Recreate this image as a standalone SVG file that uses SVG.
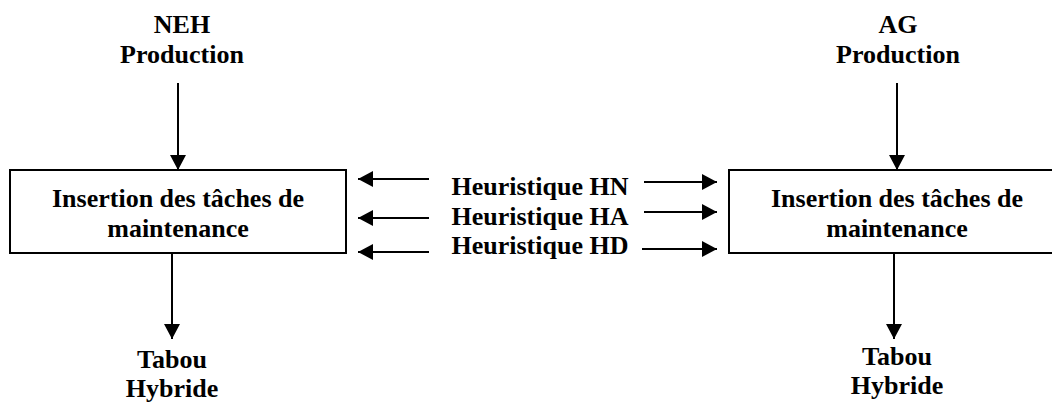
<svg xmlns="http://www.w3.org/2000/svg" width="1052" height="403" viewBox="0 0 1052 403">
<style>
text{font-family:"Liberation Serif","Times New Roman",serif;font-weight:bold;font-size:26px;fill:#000;text-anchor:middle}
.box{fill:#fff;stroke:#000;stroke-width:2}
.ln{stroke:#000;stroke-width:2;fill:none;marker-end:url(#ah)}
</style>
<defs>
<marker id="ah" markerUnits="userSpaceOnUse" markerWidth="16" markerHeight="16" refX="15" refY="8" orient="auto" viewBox="0 0 16 16">
<path d="M0,0 L15,8 L0,16 Z" fill="#000"/>
</marker>
</defs>
<rect width="1052" height="403" fill="#fff"/>
<g id="connectors">
<line class="ln" x1="178" y1="83" x2="178" y2="170"/>
<line class="ln" x1="897" y1="83" x2="897" y2="170"/>
<line class="ln" x1="172" y1="253" x2="172" y2="339"/>
<line class="ln" x1="894" y1="253" x2="894" y2="339"/>
<line class="ln" x1="429" y1="179" x2="358" y2="179"/>
<line class="ln" x1="429" y1="218" x2="358" y2="218"/>
<line class="ln" x1="429" y1="252" x2="358" y2="252"/>
<line class="ln" x1="644" y1="182" x2="717" y2="182"/>
<line class="ln" x1="644" y1="212" x2="717" y2="212"/>
<line class="ln" x1="642" y1="249" x2="717" y2="249"/>
</g>
<g id="neh">
<text x="182" y="33">NEH</text>
<text x="182" y="63">Production</text>
</g>
<g id="ag">
<text x="898" y="33">AG</text>
<text x="898" y="63">Production</text>
</g>
<g id="box-left">
<rect class="box" x="10" y="170" width="336" height="83"/>
<text x="178" y="207">Insertion des tâches de</text>
<text x="178" y="237">maintenance</text>
</g>
<g id="box-right">
<rect class="box" x="729" y="170" width="340" height="83"/>
<text x="897" y="207">Insertion des tâches de</text>
<text x="897" y="237">maintenance</text>
</g>
<g id="heuristiques">
<text x="540" y="195">Heuristique HN</text>
<text x="540" y="225">Heuristique HA</text>
<text x="540" y="254">Heuristique HD</text>
</g>
<g id="tabou-left">
<text x="172" y="368">Tabou</text>
<text x="172" y="397">Hybride</text>
</g>
<g id="tabou-right">
<text x="897" y="365">Tabou</text>
<text x="897" y="394">Hybride</text>
</g>
</svg>
